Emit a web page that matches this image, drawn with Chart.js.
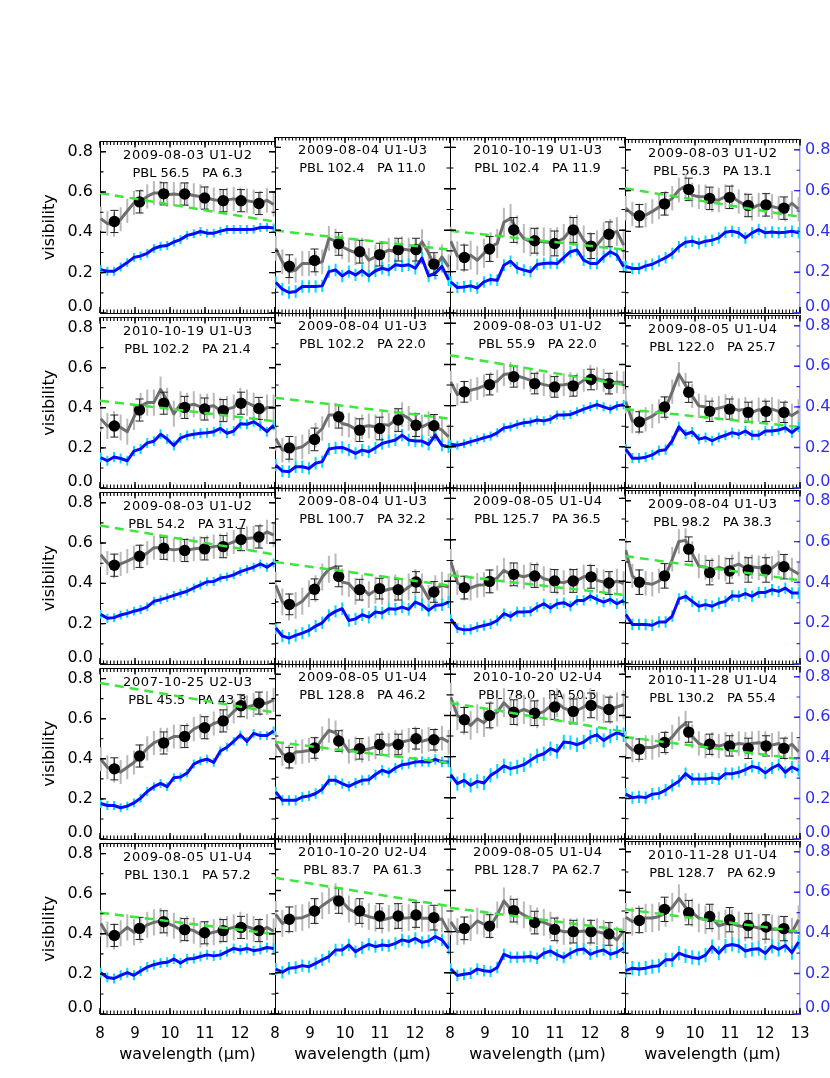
<!DOCTYPE html>
<html><head><meta charset="utf-8">
<script src="https://cdn.jsdelivr.net/npm/chart.js@4.4.1/dist/chart.umd.min.js"></script>
<style>
html,body{margin:0;padding:0;background:#fff;}
#wrap{position:relative;width:830px;height:1078px;overflow:hidden;background:#fff;}
canvas{position:absolute;}
</style></head><body><div id="wrap"></div>
<script>
// ---------------- data ----------------
const panelDates = ['2009-08-03 U1-U2','2009-08-04 U1-U3','2010-10-19 U1-U3','2009-08-03 U1-U2',
  '2010-10-19 U1-U3','2009-08-04 U1-U3','2009-08-03 U1-U2','2009-08-05 U1-U4',
  '2009-08-03 U1-U2','2009-08-04 U1-U3','2009-08-05 U1-U4','2009-08-04 U1-U3',
  '2007-10-25 U2-U3','2009-08-05 U1-U4','2010-10-20 U2-U4','2010-11-28 U1-U4',
  '2009-08-05 U1-U4','2010-10-20 U2-U4','2009-08-05 U1-U4','2010-11-28 U1-U4'];
const panelPBL = [56.5,102.4,102.4,56.3, 102.2,102.2,55.9,122.0, 54.2,100.7,125.7,98.2, 45.5,128.8,78.0,130.2, 130.1,83.7,128.7,128.7];
const panelPA  = [6.3,11.0,11.9,13.1, 21.4,22.0,22.0,25.7, 31.7,32.2,36.5,38.3, 43.3,46.2,50.5,55.4, 57.2,61.3,62.7,62.9];

const xTickValues = [8,9,10,11,12,13];
const yTickValues = [0.0,0.2,0.4,0.6,0.8];

const specWave = [8.02,8.21,8.40,8.59,8.78,8.97,9.16,9.35,9.54,9.73,9.92,10.11,10.30,10.49,10.68,10.87,11.06,11.25,11.44,11.63,11.82,12.01,12.20,12.39,12.58,12.77,12.96];
const dotWave = [8.41,9.13,9.82,10.42,10.99,11.52,12.03,12.54];
const greenWave = [8.0,12.93];

const greyVis = [
[0.468,0.444,0.438,0.465,0.506,0.546,0.554,0.578,0.595,0.595,0.587,0.590,0.587,0.590,0.583,0.578,0.570,0.562,0.557,0.561,0.566,0.562,0.557,0.551,0.546,0.559,0.538],
[0.312,0.247,0.199,0.207,0.239,0.239,0.239,0.247,0.360,0.347,0.320,0.304,0.292,0.304,0.255,0.271,0.288,0.304,0.296,0.309,0.304,0.299,0.344,0.288,0.223,0.271,0.223],
[0.347,0.276,0.267,0.279,0.255,0.288,0.320,0.336,0.438,0.457,0.401,0.360,0.344,0.347,0.344,0.341,0.344,0.360,0.401,0.405,0.352,0.320,0.328,0.368,0.385,0.393,0.328],
[0.514,0.485,0.477,0.480,0.498,0.519,0.538,0.562,0.603,0.622,0.578,0.570,0.570,0.554,0.554,0.570,0.570,0.546,0.530,0.514,0.530,0.530,0.522,0.514,0.509,0.538,0.509],
[0.346,0.309,0.318,0.302,0.281,0.354,0.410,0.426,0.426,0.491,0.435,0.370,0.418,0.410,0.418,0.405,0.405,0.410,0.386,0.394,0.402,0.435,0.426,0.410,0.373,0.402,0.402],
[0.241,0.184,0.184,0.192,0.200,0.225,0.257,0.289,0.354,0.354,0.313,0.305,0.286,0.297,0.302,0.297,0.309,0.305,0.330,0.357,0.338,0.309,0.297,0.313,0.297,0.281,0.249],
[0.515,0.454,0.467,0.475,0.483,0.496,0.507,0.519,0.551,0.556,0.544,0.535,0.523,0.512,0.502,0.496,0.499,0.502,0.507,0.502,0.523,0.544,0.531,0.523,0.507,0.515,0.512],
[0.427,0.330,0.325,0.338,0.354,0.378,0.394,0.475,0.561,0.507,0.454,0.405,0.399,0.386,0.394,0.402,0.394,0.383,0.389,0.373,0.386,0.383,0.389,0.378,0.373,0.357,0.378],
[0.542,0.501,0.485,0.497,0.510,0.526,0.534,0.550,0.577,0.577,0.571,0.566,0.571,0.564,0.571,0.574,0.577,0.582,0.587,0.593,0.606,0.619,0.622,0.626,0.635,0.655,0.639],
[0.380,0.300,0.275,0.283,0.303,0.340,0.364,0.420,0.458,0.469,0.396,0.388,0.351,0.367,0.335,0.356,0.351,0.361,0.367,0.348,0.372,0.393,0.372,0.316,0.364,0.380,0.372],
[0.496,0.393,0.367,0.367,0.380,0.383,0.399,0.416,0.453,0.432,0.429,0.421,0.432,0.432,0.412,0.404,0.396,0.393,0.404,0.404,0.421,0.425,0.404,0.396,0.388,0.400,0.388],
[0.558,0.432,0.404,0.396,0.391,0.407,0.432,0.513,0.601,0.606,0.542,0.480,0.474,0.461,0.474,0.464,0.477,0.490,0.469,0.477,0.472,0.480,0.469,0.496,0.480,0.461,0.441],
[0.398,0.358,0.342,0.334,0.358,0.382,0.414,0.452,0.479,0.495,0.495,0.511,0.511,0.519,0.548,0.565,0.555,0.576,0.587,0.603,0.636,0.665,0.657,0.668,0.673,0.678,0.694],
[0.463,0.414,0.398,0.422,0.425,0.430,0.438,0.487,0.527,0.516,0.474,0.425,0.438,0.430,0.438,0.447,0.463,0.455,0.467,0.471,0.479,0.487,0.474,0.484,0.479,0.490,0.471],
[0.689,0.600,0.576,0.552,0.584,0.565,0.600,0.616,0.662,0.629,0.616,0.629,0.616,0.608,0.619,0.645,0.662,0.636,0.624,0.624,0.641,0.662,0.645,0.632,0.629,0.641,0.652],
[0.471,0.439,0.439,0.451,0.451,0.463,0.474,0.503,0.544,0.571,0.506,0.471,0.458,0.467,0.458,0.467,0.463,0.471,0.467,0.471,0.474,0.471,0.463,0.471,0.447,0.467,0.430],
[0.452,0.397,0.387,0.403,0.432,0.408,0.419,0.445,0.457,0.464,0.452,0.440,0.419,0.424,0.416,0.397,0.400,0.408,0.416,0.424,0.432,0.445,0.436,0.424,0.413,0.432,0.413],
[0.484,0.440,0.456,0.465,0.468,0.481,0.500,0.526,0.549,0.570,0.545,0.510,0.494,0.484,0.473,0.465,0.456,0.465,0.473,0.465,0.468,0.473,0.465,0.465,0.456,0.461,0.400],
[0.448,0.400,0.403,0.419,0.452,0.436,0.429,0.481,0.549,0.510,0.500,0.481,0.465,0.452,0.445,0.432,0.408,0.400,0.400,0.400,0.403,0.397,0.400,0.392,0.384,0.360,0.403],
[0.477,0.456,0.465,0.473,0.473,0.481,0.500,0.526,0.570,0.526,0.500,0.473,0.465,0.473,0.435,0.445,0.445,0.435,0.429,0.432,0.424,0.416,0.419,0.416,0.408,0.403,0.465]
];
const greyErr = [0.06,0.06,0.07,0.06, 0.065,0.06,0.055,0.06, 0.06,0.065,0.06,0.06, 0.06,0.06,0.07,0.06, 0.065,0.065,0.065,0.07];

const blueVis = [
[0.215,0.207,0.207,0.228,0.250,0.276,0.283,0.296,0.320,0.331,0.335,0.352,0.364,0.385,0.393,0.404,0.396,0.396,0.406,0.414,0.414,0.414,0.414,0.415,0.424,0.425,0.422],
[0.148,0.115,0.099,0.104,0.128,0.128,0.128,0.131,0.200,0.208,0.179,0.200,0.184,0.205,0.179,0.204,0.216,0.208,0.233,0.228,0.233,0.216,0.265,0.179,0.192,0.225,0.160],
[0.150,0.123,0.126,0.131,0.121,0.150,0.162,0.158,0.231,0.250,0.218,0.207,0.199,0.234,0.239,0.242,0.239,0.267,0.296,0.304,0.255,0.239,0.239,0.271,0.296,0.279,0.223],
[0.228,0.218,0.218,0.231,0.239,0.255,0.271,0.292,0.325,0.347,0.352,0.341,0.352,0.357,0.368,0.396,0.401,0.393,0.368,0.393,0.409,0.393,0.397,0.393,0.396,0.401,0.393],
[0.152,0.136,0.155,0.147,0.136,0.184,0.195,0.225,0.233,0.268,0.244,0.212,0.249,0.262,0.268,0.273,0.276,0.281,0.297,0.273,0.284,0.321,0.318,0.330,0.309,0.281,0.313],
[0.111,0.082,0.079,0.103,0.103,0.095,0.120,0.128,0.189,0.195,0.197,0.184,0.168,0.184,0.176,0.195,0.216,0.225,0.233,0.257,0.233,0.228,0.228,0.212,0.257,0.208,0.200],
[0.212,0.208,0.215,0.225,0.234,0.244,0.252,0.268,0.292,0.297,0.309,0.317,0.321,0.330,0.326,0.334,0.354,0.354,0.357,0.370,0.383,0.394,0.405,0.394,0.383,0.399,0.405],
[0.192,0.147,0.147,0.152,0.163,0.184,0.189,0.233,0.302,0.265,0.276,0.241,0.249,0.233,0.249,0.260,0.273,0.265,0.281,0.260,0.260,0.281,0.281,0.286,0.297,0.273,0.300],
[0.246,0.227,0.230,0.243,0.251,0.262,0.270,0.283,0.311,0.319,0.329,0.340,0.351,0.361,0.377,0.392,0.408,0.409,0.426,0.432,0.442,0.458,0.469,0.480,0.496,0.480,0.501],
[0.174,0.135,0.125,0.138,0.149,0.162,0.183,0.199,0.235,0.254,0.267,0.210,0.218,0.238,0.226,0.251,0.246,0.267,0.264,0.275,0.264,0.299,0.286,0.259,0.283,0.286,0.299],
[0.218,0.173,0.165,0.167,0.178,0.186,0.194,0.210,0.243,0.230,0.251,0.251,0.254,0.275,0.291,0.270,0.291,0.296,0.280,0.307,0.307,0.328,0.312,0.299,0.312,0.291,0.307],
[0.243,0.194,0.194,0.194,0.190,0.206,0.206,0.235,0.319,0.332,0.307,0.283,0.291,0.283,0.299,0.307,0.335,0.332,0.345,0.332,0.351,0.351,0.364,0.356,0.372,0.348,0.348],
[0.177,0.167,0.167,0.156,0.164,0.180,0.204,0.237,0.261,0.277,0.261,0.306,0.309,0.329,0.374,0.390,0.398,0.382,0.439,0.458,0.487,0.519,0.487,0.527,0.516,0.516,0.539],
[0.229,0.188,0.188,0.188,0.204,0.209,0.221,0.242,0.285,0.285,0.269,0.256,0.272,0.285,0.288,0.313,0.334,0.322,0.345,0.361,0.366,0.374,0.377,0.374,0.387,0.374,0.374],
[0.313,0.269,0.285,0.261,0.280,0.272,0.309,0.329,0.355,0.342,0.350,0.361,0.382,0.403,0.414,0.439,0.426,0.471,0.468,0.458,0.471,0.495,0.506,0.479,0.500,0.516,0.506],
[0.221,0.204,0.208,0.204,0.221,0.225,0.241,0.264,0.285,0.322,0.296,0.296,0.296,0.301,0.296,0.322,0.322,0.329,0.342,0.358,0.350,0.326,0.350,0.366,0.329,0.355,0.338],
[0.206,0.182,0.177,0.193,0.206,0.193,0.214,0.234,0.246,0.254,0.258,0.274,0.254,0.274,0.277,0.287,0.295,0.290,0.295,0.311,0.327,0.319,0.327,0.316,0.322,0.332,0.327],
[0.218,0.203,0.222,0.226,0.235,0.230,0.246,0.263,0.279,0.311,0.311,0.335,0.303,0.322,0.338,0.327,0.335,0.332,0.343,0.360,0.352,0.367,0.348,0.355,0.376,0.360,0.319],
[0.219,0.187,0.193,0.198,0.218,0.210,0.206,0.226,0.290,0.276,0.276,0.277,0.279,0.271,0.295,0.306,0.287,0.274,0.295,0.311,0.316,0.290,0.303,0.311,0.290,0.300,0.319],
[0.214,0.226,0.222,0.226,0.234,0.238,0.267,0.267,0.300,0.287,0.279,0.274,0.290,0.332,0.300,0.335,0.343,0.335,0.311,0.319,0.322,0.300,0.335,0.319,0.338,0.303,0.355]
];
const blueErr = [0.022,0.03,0.028,0.028, 0.025,0.03,0.022,0.025, 0.022,0.03,0.025,0.028, 0.022,0.025,0.035,0.03, 0.025,0.03,0.028,0.035];

const dotVis = [
[0.454,0.551,0.591,0.590,0.570,0.557,0.557,0.543],
[0.226,0.254,0.334,0.296,0.282,0.306,0.306,0.236],
[0.268,0.309,0.401,0.349,0.336,0.401,0.323,0.380],
[0.477,0.535,0.606,0.562,0.567,0.527,0.530,0.514],
[0.309,0.389,0.423,0.402,0.394,0.386,0.423,0.397],
[0.195,0.236,0.346,0.281,0.289,0.330,0.305,0.302],
[0.467,0.502,0.540,0.507,0.491,0.496,0.527,0.507],
[0.326,0.399,0.472,0.378,0.389,0.373,0.378,0.373],
[0.490,0.534,0.574,0.563,0.571,0.582,0.617,0.630],
[0.288,0.361,0.423,0.359,0.364,0.359,0.396,0.348],
[0.369,0.399,0.433,0.425,0.401,0.401,0.421,0.391],
[0.401,0.432,0.563,0.448,0.456,0.461,0.461,0.477],
[0.350,0.414,0.479,0.511,0.555,0.589,0.665,0.678],
[0.395,0.442,0.476,0.438,0.459,0.459,0.487,0.482],
[0.579,0.600,0.616,0.611,0.641,0.620,0.649,0.629],
[0.443,0.476,0.527,0.467,0.459,0.447,0.459,0.447],
[0.392,0.427,0.460,0.421,0.405,0.416,0.432,0.416],
[0.460,0.500,0.549,0.500,0.476,0.476,0.481,0.468],
[0.416,0.427,0.502,0.444,0.411,0.400,0.400,0.389],
[0.461,0.516,0.500,0.481,0.465,0.436,0.429,0.421]
];
const dotErr = [0.055,0.055,0.06,0.055, 0.055,0.055,0.05,0.05, 0.055,0.05,0.055,0.06, 0.055,0.05,0.06,0.05, 0.055,0.06,0.055,0.06];

const greenStart = [0.595,0.398,0.397,0.611, 0.435,0.439,0.645,0.389, 0.687,0.493,0.429,0.529, 0.778,0.471,0.662,0.503, 0.505,0.662,0.516,0.516];
const greenEnd   = [0.455,0.307,0.307,0.473, 0.334,0.338,0.502,0.302, 0.545,0.380,0.335,0.412, 0.633,0.371,0.523,0.395, 0.400,0.525,0.408,0.408];

// ---------------- layout ----------------
const FONT = '"DejaVu Sans", sans-serif';
const COLS = [100,275,450,625], COLW = 175;
const ROWS = [137,313,488,664,839], ROWH = [176,175,176,175,175];
const ML = 64, MR = 40, MT = 12, MB = 60;
const X_MIN = 8, X_MAX = 13, Y_MIN = 0, Y_MAX = 0.85;
const BLUE_AXIS = '#2f2ff0', BLUE_BORDER = '#9c9cff';
const TICK_SPECS = [];

function errSegments(xs, ys, e, capHalf){
  const out = [];
  xs.forEach((x,i) => {
    const lo = ys[i]-e, hi = ys[i]+e;
    out.push({x, y:lo},{x, y:hi},{x, y:null});
    if (capHalf){
      out.push({x:x-capHalf, y:lo},{x:x+capHalf, y:lo},{x, y:null});
      out.push({x:x-capHalf, y:hi},{x:x+capHalf, y:hi},{x, y:null});
    }
  });
  return out;
}
function pts(xs, ys){ return xs.map((x,i)=>({x, y:ys[i]})); }

const panelText = {
  id:'panelText',
  beforeDatasetsDraw(chart, args, opts){
    const {ctx, chartArea:a} = chart;
    const p = opts.panel;
    ctx.save();
    ctx.fillStyle = '#000';
    ctx.textAlign = 'center';
    ctx.textBaseline = 'middle';
    const cx = (a.left + a.right)/2;
    ctx.font = '13px ' + FONT;
    if ('letterSpacing' in ctx) ctx.letterSpacing = '0.6px';
    ctx.fillText(panelDates[p], cx + 0.3, a.top + 14);
    if ('letterSpacing' in ctx) ctx.letterSpacing = '0px';
    ctx.fillText('PBL ' + panelPBL[p].toFixed(1) + '   PA ' + panelPA[p].toFixed(1), cx, a.top + 32);
    ctx.restore();
  }
};

const inTicks = {
  id:'inTicks',
  afterDraw(chart, args, opts){
    const {ctx, chartArea:a} = chart;
    const p = opts.panel;
    const specs = TICK_SPECS[p] || [];
    ctx.save();
    for (const spec of specs){
      const s = chart.scales[spec.id];
      if (!s) continue;
      ctx.lineWidth = spec.w;
      ctx.strokeStyle = spec.color;
      ctx.beginPath();
      for (const t of s.ticks){
        const v = s.getPixelForValue(t.value);
        if (spec.side === 'bottom' || spec.side === 'top'){
          if (v < a.left - 0.5 || v > a.right + 0.5) continue;
          const yb = spec.side === 'bottom' ? a.bottom : a.top;
          const dir = spec.side === 'bottom' ? -1 : 1;
          ctx.moveTo(v, yb); ctx.lineTo(v, yb + dir*spec.len);
        } else {
          if (v < a.top - 0.5 || v > a.bottom + 0.5) continue;
          const xb = spec.side === 'left' ? a.left : a.right;
          const dir = spec.side === 'left' ? 1 : -1;
          ctx.moveTo(xb, v); ctx.lineTo(xb + dir*spec.len, v);
        }
      }
      ctx.stroke();
    }
    ctx.font = '16px ' + FONT;
    ctx.textBaseline = 'middle';
    const yz = chart.scales.y.getPixelForValue(yTickValues[0]) - 6;
    const c = p % 4;
    if (c === 0){ ctx.fillStyle = '#000'; ctx.textAlign = 'right'; ctx.fillText(yTickValues[0].toFixed(1), a.left - 7, yz); }
    if (c === 3){ ctx.fillStyle = BLUE_AXIS; ctx.textAlign = 'left'; ctx.fillText(yTickValues[0].toFixed(1), a.right + 5, yz); }
    ctx.restore();
  }
};

function makeScales(r, c){
  const firstCol = c===0, lastCol = c===3, lastRow = r===4;
  const blk = '#000';
  const rTick = lastCol ? BLUE_AXIS : blk;
  const rBorder = lastCol ? BLUE_BORDER : blk;
  const baseT = {autoSkip:false, minRotation:0, maxRotation:0};
  const noGrid = {display:true, drawOnChartArea:false, drawTicks:false};
  return {
    x: {type:'linear', position:'bottom', min:X_MIN, max:X_MAX, weight:1,
        afterFit: s => { s.height = MB; },
        ticks: Object.assign({}, baseT, {display:lastRow, stepSize:1, padding:11, font:{family:FONT, size:15}, color:blk,
               callback: v => (xTickValues.includes(v) && !(v===13 && !lastCol)) ? String(v) : ''}),
        grid: noGrid,
        border: {display:true, color:blk, width:1},
        title: {display:lastRow, text:'wavelength (\u03bcm)', font:{family:FONT, size:16}, color:blk, padding:{top:0, bottom:10}}},
    xt: {type:'linear', position:'top', min:X_MIN, max:X_MAX, weight:1,
        afterFit: s => { s.height = MT; },
        ticks: Object.assign({}, baseT, {display:false, stepSize:1}),
        grid: noGrid,
        border: {display:true, color:blk, width:1}},
    xm: {type:'linear', display:false, position:'bottom', min:X_MIN, max:X_MAX, weight:0,
        afterFit: s => { s.height = 0; },
        ticks: Object.assign({}, baseT, {display:false, stepSize:0.1})},
    y: {type:'linear', position:'left', min:Y_MIN, max:Y_MAX, weight:1,
        afterFit: s => { s.width = ML; },
        ticks: Object.assign({}, baseT, {display:firstCol, stepSize:0.2, includeBounds:false, padding:7, font:{family:FONT, size:16}, color:blk,
               callback: v => (v===0 ? '' : v.toFixed(1))}),
        grid: noGrid,
        border: {display:true, color:blk, width:1},
        title: {display:firstCol, text:'visibility', font:{family:FONT, size:16}, color:blk, padding:{top:4, bottom:0}}},
    yr: {type:'linear', position:'right', min:Y_MIN, max:Y_MAX, weight:1,
        afterFit: s => { s.width = MR; },
        ticks: Object.assign({}, baseT, {display:lastCol, stepSize:0.2, includeBounds:false, padding:5, font:{family:FONT, size:16}, color:rTick,
               callback: v => (v===0 ? '' : v.toFixed(1))}),
        grid: noGrid,
        border: {display:true, color:rBorder, width:lastCol ? 1.5 : 1}},
    ym: {type:'linear', display:false, position:'left', min:Y_MIN, max:Y_MAX, weight:0,
        afterFit: s => { s.width = 0; },
        ticks: Object.assign({}, baseT, {display:false, stepSize:0.1, includeBounds:false})}
  };
}

const wrap = document.getElementById('wrap');
for (let r = 0; r < 5; r++){
  for (let c = 0; c < 4; c++){
    const p = r*4 + c;
    const w = COLW + ML + MR, h = ROWH[r] + MT + MB;
    const cv = document.createElement('canvas');
    cv.width = w; cv.height = h;
    cv.style.left = (COLS[c]-ML) + 'px';
    cv.style.top = (ROWS[r]-MT) + 'px';
    cv.style.width = w + 'px'; cv.style.height = h + 'px';
    wrap.appendChild(cv);

    const rCol = c===3 ? BLUE_AXIS : '#000';
    TICK_SPECS[p] = [
      {id:'x', side:'bottom', len:6, w:1.4, color:'#000'}, {id:'xm', side:'bottom', len:3.5, w:1.1, color:'#000'},
      {id:'x', side:'top', len:6, w:1.4, color:'#000'},    {id:'xm', side:'top', len:3.5, w:1.1, color:'#000'},
      {id:'y', side:'left', len:6, w:1.4, color:'#000'},   {id:'ym', side:'left', len:3.5, w:1.1, color:'#000'},
      {id:'yr', side:'right', len:6, w:1.4, color:rCol},   {id:'ym', side:'right', len:3.5, w:1.1, color:rCol}
    ];

    const datasets = [
      {label:'fit', data:pts(greenWave, [greenStart[p], greenEnd[p]]), showLine:true, borderColor:'#3ce63c',
       borderWidth:2.5, borderDash:[9,6], pointRadius:0, order:1},
      {label:'dots', data:pts(dotWave, dotVis[p]), showLine:false, pointRadius:5.7, pointBackgroundColor:'#000',
       pointBorderColor:'#000', pointBorderWidth:0, order:2},
      {label:'dotErr', data:errSegments(dotWave, dotVis[p], dotErr[p], 0.115), showLine:true, borderColor:'#222',
       borderWidth:1, pointRadius:0, spanGaps:false, order:3},
      {label:'grey', data:pts(specWave, greyVis[p]), showLine:true, borderColor:'#6e6e6e', borderWidth:3,
       borderJoinStyle:'round', pointRadius:0, order:4},
      {label:'blue', data:pts(specWave, blueVis[p]), showLine:true, borderColor:'#0a0aff', borderWidth:3,
       borderJoinStyle:'round', pointRadius:0, order:5},
      {label:'cyanErr', data:errSegments(specWave, blueVis[p], blueErr[p], 0), showLine:true, borderColor:'#00dcff',
       borderWidth:2, pointRadius:0, spanGaps:false, order:6},
      {label:'greyErr', data:errSegments(specWave, greyVis[p], greyErr[p], 0), showLine:true, borderColor:'#bababa',
       borderWidth:2, pointRadius:0, spanGaps:false, order:7}
    ];

    new Chart(cv, {
      type:'scatter',
      data:{datasets},
      options:{
        responsive:false, animation:false, events:[],
        layout:{padding:0},
        plugins:{legend:{display:false}, tooltip:{enabled:false},
          panelText:{panel:p},
          inTicks:{panel:p}},
        scales: makeScales(r, c)
      },
      plugins:[panelText, inTicks]
    });
  }
}
</script>
</body></html>
